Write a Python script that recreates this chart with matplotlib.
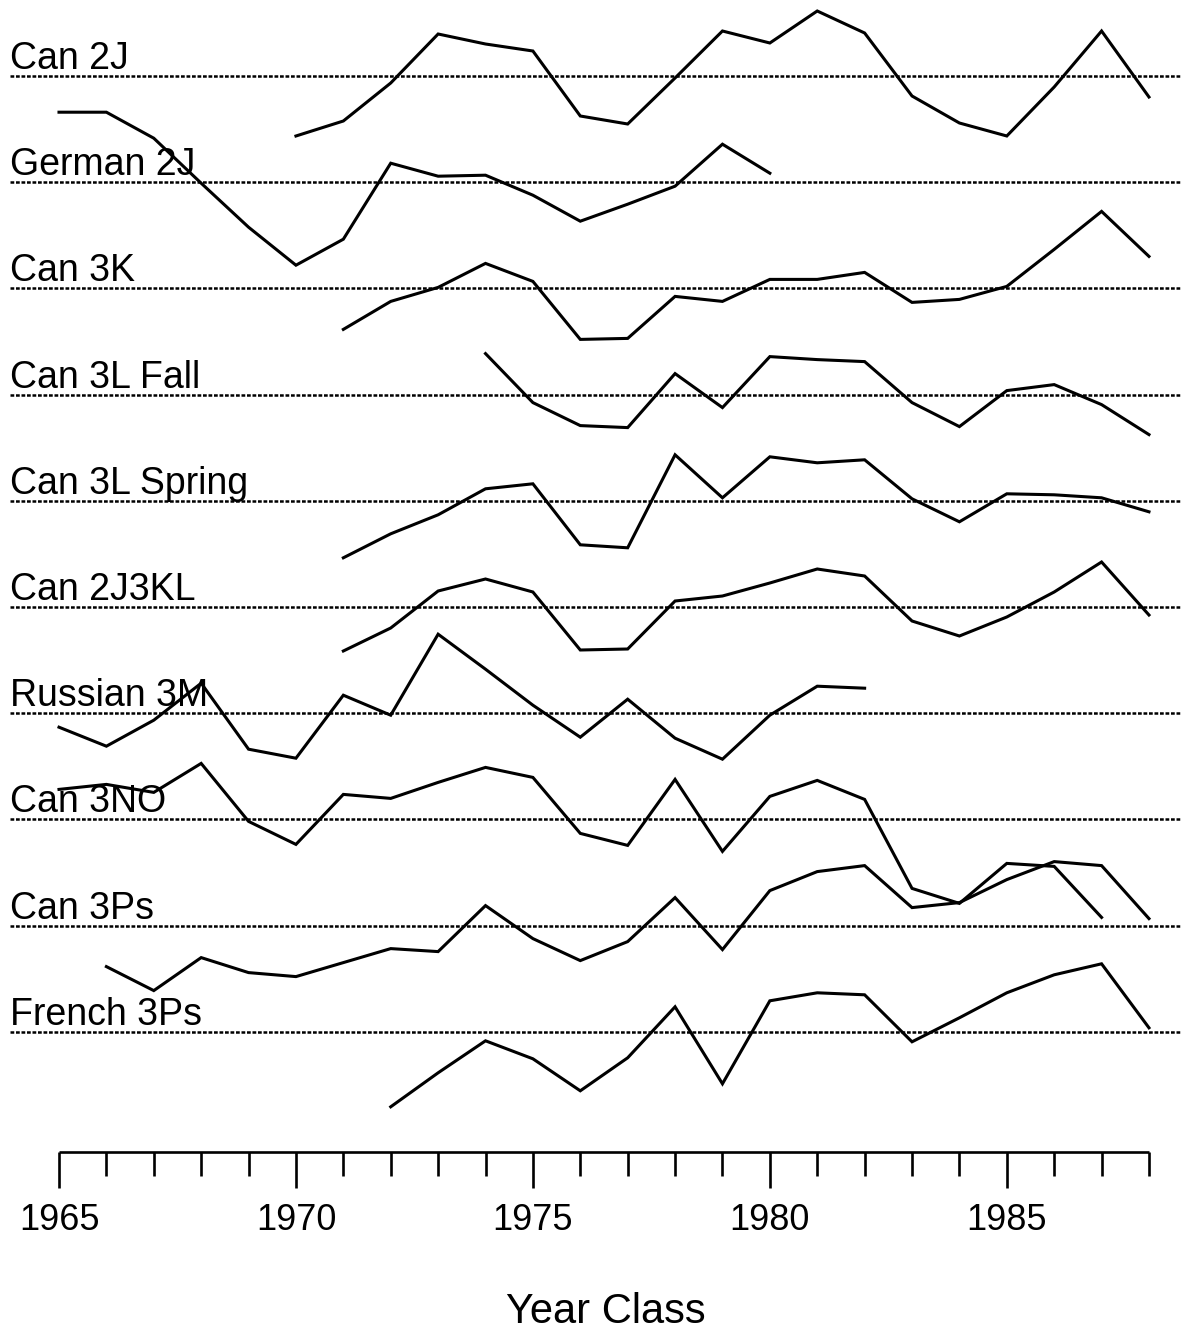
import numpy as np
import matplotlib
matplotlib.use("Agg")
import matplotlib.pyplot as plt

plt.rcParams['font.family'] = ['Liberation Sans', 'DejaVu Sans']

# index values (deviation from each series' own zero line)
names = ['Can 2J', 'German 2J', 'Can 3K', 'Can 3L Fall', 'Can 3L Spring',
         'Can 2J3KL', 'Russian 3M', 'Can 3NO', 'Can 3Ps', 'French 3Ps']

can2j_years = list(range(1970, 1989))
can2j = [-60, -45, -7, 42, 32, 25, -40, -48, -2, 45, 33, 65, 43, -20, -47, -60, -11, 45, -21]

german2j_years = list(range(1965, 1981))
german2j = [70, 70, 44, -1, -45, -83, -57, 19, 6, 7, -13, -39, -22, -4, 38, 9]

can3k_years = list(range(1971, 1989))
can3k = [-41, -13, 1, 25, 7, -51, -50, -8, -13, 9, 9, 16, -14, -11, 2, 39, 77, 32]

can3lfall_years = list(range(1974, 1989))
can3lfall = [41, -8, -31, -33, 21, -13, 38, 35, 33, -8, -32, 4, 10, -10, -40]

can3lspring_years = list(range(1971, 1989))
can3lspring = [-57, -33, -14, 12, 17, -44, -47, 46, 3, 44, 38, 41, 2, -21, 7, 6, 3, -11]

can2j3kl_years = list(range(1971, 1989))
can2j3kl = [-44, -21, 16, 28, 15, -43, -42, 6, 11, 24, 38, 31, -14, -29, -10, 15, 45, -8]

russian3m_years = list(range(1965, 1983))
russian3m = [-14, -33, -7, 30, -36, -45, 18, -2, 79, 44, 8, -24, 14, -25, -46, -2, 27, 25]

can3no_years = list(range(1965, 1988))
can3no = [30, 35, 27, 56, -2, -25, 25, 21, 37, 52, 42, -14, -26, 40, -32, 23, 39, 20,
          -69, -84, -44, -47, -98]

can3ps_years = list(range(1966, 1989))
can3ps = [-41, -65, -32, -47, -51, -37, -23, -26, 20, -13, -35, -16, 28, -24, 35, 54, 60,
          18, 23, 46, 64, 60, 7]

french3ps_years = list(range(1972, 1989))
french3ps = [-75, -41, -9, -27, -59, -26, 25, -52, 31, 39, 37, -10, 14, 39, 57, 68, 4]

series = [(can2j_years, can2j), (german2j_years, german2j), (can3k_years, can3k),
          (can3lfall_years, can3lfall), (can3lspring_years, can3lspring),
          (can2j3kl_years, can2j3kl), (russian3m_years, russian3m),
          (can3no_years, can3no), (can3ps_years, can3ps), (french3ps_years, french3ps)]

W, H = 1181, 1330
fig = plt.figure(figsize=(W / 100, H / 100), dpi=100)
ax = fig.add_axes([0, 0, 1, 1])
ax.axis('off')

px_per_year = 47.39
x0 = 1965 - 59 / px_per_year
ax.set_xlim(x0, x0 + W / px_per_year)
ax.set_ylim(H, 0)

trans = ax.get_yaxis_transform()
for i, (name, (yrs, vals)) in enumerate(zip(names, series)):
    base = 76 + 106.2 * i
    ax.axhline(base, xmin=10 / W, xmax=1, color='black', lw=1.8,
               linestyle=(0, (1.5, 0.7)))
    ax.text(10 / W, base - 7, name, transform=trans, fontsize=27,
            va='baseline', ha='left', color='black')
    ax.plot(yrs, base - np.array(vals), color='black', lw=2.2,
            solid_joinstyle='miter')

# x axis drawn below the panels
years = np.arange(1965, 1989)
axis_y = 1152
ax.hlines(axis_y, 1965, 1988, color='black', lw=1.9)
for yr in years:
    major = yr % 5 == 0
    ax.vlines(yr, axis_y, 1188 if major else 1176, color='black', lw=1.9)
    if major:
        ax.text(yr, 1220, str(yr), fontsize=26, ha='center', va='center')

ax.text(606 / px_per_year + x0, 1312, 'Year Class', fontsize=30,
        ha='center', va='center')

fig.savefig('out.png', dpi=100)
